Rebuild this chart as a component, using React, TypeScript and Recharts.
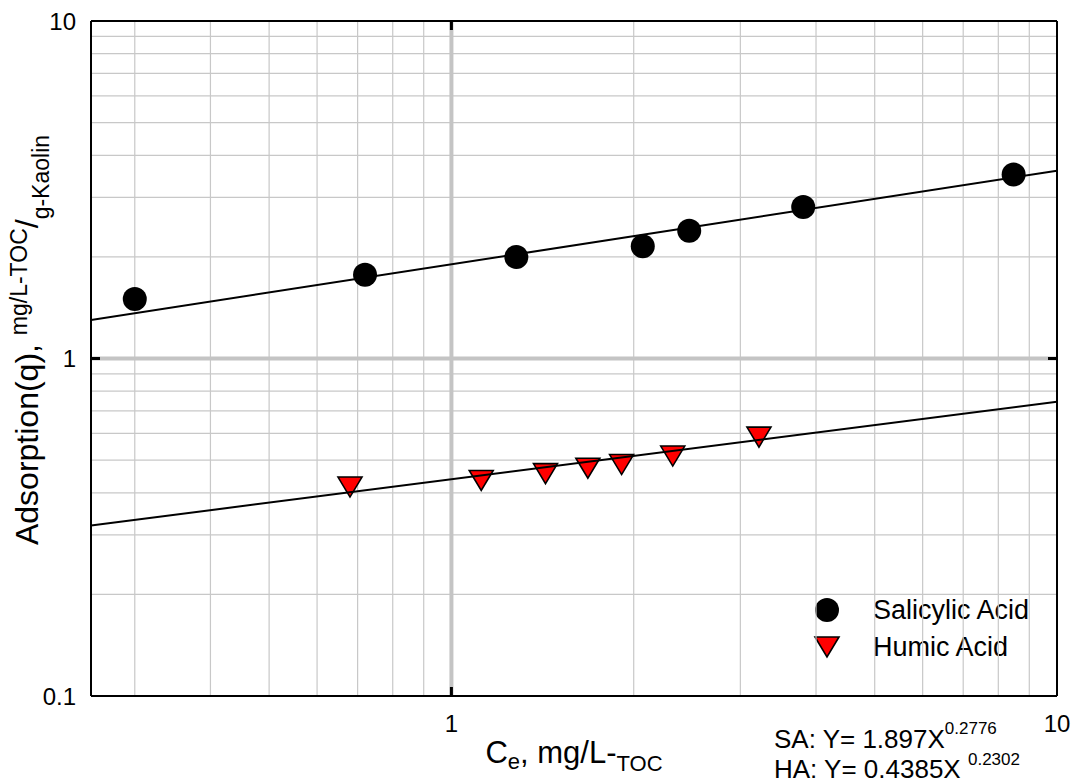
import React from "react";
import {
  ScatterChart,
  Scatter,
  XAxis,
  YAxis,
  ReferenceLine,
  Customized,
} from "recharts";

const salicylicAcid = [
  { x: 0.3, y: 1.5 },
  { x: 0.72, y: 1.77 },
  { x: 1.28, y: 2.0 },
  { x: 2.07, y: 2.15 },
  { x: 2.47, y: 2.39 },
  { x: 3.81, y: 2.81 },
  { x: 8.48, y: 3.51 },
];

const humicAcid = [
  { x: 0.68, y: 0.416 },
  { x: 1.12, y: 0.435 },
  { x: 1.43, y: 0.456 },
  { x: 1.68, y: 0.473 },
  { x: 1.91, y: 0.485 },
  { x: 2.32, y: 0.514 },
  { x: 3.22, y: 0.585 },
];

// fitted power lines, end points at the plot edges
const saFit = [
  { x: 0.254, y: 1.3 },
  { x: 10, y: 3.6 },
];
const haFit = [
  { x: 0.254, y: 0.32 },
  { x: 10, y: 0.745 },
];

const xTicks = [1, 10];
const yTicks = [0.1, 1, 10];
const xMinor = [0.3, 0.4, 0.5, 0.6, 0.7, 0.8, 0.9, 2, 3, 4, 5, 6, 7, 8, 9];
const yMinor = [0.2, 0.3, 0.4, 0.5, 0.6, 0.7, 0.8, 0.9, 2, 3, 4, 5, 6, 7, 8, 9];

const legendItems = [
  { label: "Salicylic Acid", kind: "circle" },
  { label: "Humic Acid", kind: "triangle" },
];

const FONT = "'Liberation Sans', Arial, sans-serif";

const Dot = (props: any) => (
  <circle cx={props.cx} cy={props.cy} r={12} fill="#000" />
);

const Triangle = (props: any) => {
  const { cx, cy } = props;
  return (
    <polygon
      points={`${cx - 12},${cy - 10} ${cx + 12},${cy - 10} ${cx},${cy + 10}`}
      fill="#ff0000"
      stroke="#000"
      strokeWidth={1.6}
    />
  );
};

const NoMark = () => <g />;

// thick grid line at 1 with short black ticks on both ends
const MajorLine = (p: any) => {
  const { x1, y1, x2, y2 } = p;
  const vertical = Math.abs(x1 - x2) < 0.5;
  const t = 9;
  if (vertical) {
    const top = Math.min(y1, y2);
    const bot = Math.max(y1, y2);
    return (
      <g>
        <line x1={x1} y1={top} x2={x1} y2={bot} stroke="#c4c4c4" strokeWidth={4} />
        <line x1={x1} y1={top} x2={x1} y2={top + t} stroke="#000" strokeWidth={3} />
        <line x1={x1} y1={bot} x2={x1} y2={bot - t} stroke="#000" strokeWidth={3} />
      </g>
    );
  }
  const l = Math.min(x1, x2);
  const r = Math.max(x1, x2);
  return (
    <g>
      <line x1={l} y1={y1} x2={r} y2={y1} stroke="#c4c4c4" strokeWidth={4} />
      <line x1={l} y1={y1} x2={l + t} y2={y1} stroke="#000" strokeWidth={3} />
      <line x1={r} y1={y1} x2={r - t} y2={y1} stroke="#000" strokeWidth={3} />
    </g>
  );
};

const Annotations = () => (
  <g fill="#000" style={{ fontFamily: FONT }}>
    <text
      x={38}
      y={340}
      transform="rotate(-90, 38, 340)"
      textAnchor="middle"
      fontSize={32}
    >
      Adsorption(q),{" "}
      <tspan fontSize={23} dy={-11}>
        mg/L-TOC
      </tspan>
      <tspan fontSize={32} dy={11}>
        /
      </tspan>
      <tspan fontSize={23} dy={11}>
        g-Kaolin
      </tspan>
    </text>

    <text x={574} y={763} textAnchor="middle" fontSize={31}>
      C
      <tspan fontSize={22} dy={6}>
        e
      </tspan>
      <tspan fontSize={31} dy={-6}>
        , mg/L-
      </tspan>
      <tspan fontSize={22} dy={8}>
        TOC
      </tspan>
    </text>

    <text x={774} y={748} fontSize={26}>
      SA: Y= 1.897X
      <tspan fontSize={17} dy={-14}>
        0.2776
      </tspan>
    </text>
    <text x={774} y={778} fontSize={26}>
      HA: Y= 0.4385X{" "}
      <tspan fontSize={17} dy={-13}>
        0.2302
      </tspan>
    </text>

    {legendItems.map((item, i) => {
      const cy = 610 + i * 37;
      return (
        <g key={item.label}>
          {item.kind === "circle" ? (
            <Dot cx={827} cy={cy} />
          ) : (
            <Triangle cx={827} cy={cy} />
          )}
          <text x={873} y={cy + 9} fontSize={27}>
            {item.label}
          </text>
        </g>
      );
    })}
  </g>
);

export default function App() {
  return (
    <div style={{ position: "absolute", left: 0, top: 0, fontFamily: FONT }}>
      <ScatterChart
        width={1075}
        height={782}
        margin={{ top: 21, right: 18, bottom: 0, left: 0 }}
      >
        {xMinor.map((v) => (
          <ReferenceLine key={"vx" + v} x={v} stroke="#c8c8c8" strokeWidth={1.2} />
        ))}
        {yMinor.map((v) => (
          <ReferenceLine key={"hy" + v} y={v} stroke="#c8c8c8" strokeWidth={1.2} />
        ))}
        <ReferenceLine x={1} shape={MajorLine} />
        <ReferenceLine y={1} shape={MajorLine} />
        <ReferenceLine y={10} stroke="#000" strokeWidth={2} />
        <ReferenceLine x={10} stroke="#000" strokeWidth={2} />

        <XAxis
          type="number"
          dataKey="x"
          scale="log"
          domain={[0.254, 10]}
          allowDataOverflow
          ticks={xTicks}
          interval={0}
          height={86}
          tickSize={0}
          tickMargin={19}
          tickLine={false}
          axisLine={{ stroke: "#000", strokeWidth: 2 }}
          tick={{ fontSize: 24, fill: "#000" }}
        />
        <YAxis
          type="number"
          dataKey="y"
          scale="log"
          domain={[0.1, 10]}
          allowDataOverflow
          ticks={yTicks}
          interval={0}
          width={91}
          tickSize={0}
          tickMargin={15}
          tickLine={false}
          axisLine={{ stroke: "#000", strokeWidth: 2 }}
          tick={{ fontSize: 24, fill: "#000" }}
        />

        <Scatter
          name="Salicylic Acid"
          data={salicylicAcid}
          shape={Dot}
          isAnimationActive={false}
        />
        <Scatter
          name="Humic Acid"
          data={humicAcid}
          shape={Triangle}
          isAnimationActive={false}
        />
        <Scatter
          data={saFit}
          shape={NoMark}
          line={{ stroke: "#000", strokeWidth: 2 }}
          isAnimationActive={false}
        />
        <Scatter
          data={haFit}
          shape={NoMark}
          line={{ stroke: "#000", strokeWidth: 2 }}
          isAnimationActive={false}
        />

        <Customized component={Annotations} />
      </ScatterChart>
    </div>
  );
}
